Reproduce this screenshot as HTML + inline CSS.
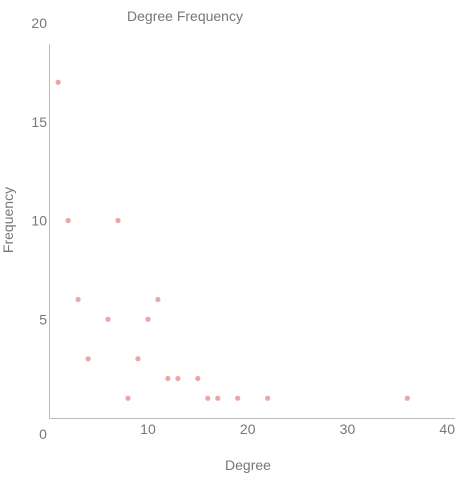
<!DOCTYPE html>
<html><head><meta charset="utf-8"><style>
body{margin:0;background:#fff;}
svg text{font-family:"Liberation Sans",sans-serif;fill:#777;}
</style></head><body>
<svg id="chart" width="471" height="481">
<text x="185" y="21" font-size="14" text-anchor="middle">Degree Frequency</text>
<line x1="49.5" y1="44" x2="49.5" y2="418.5" stroke="#bbb"/>
<line x1="49.5" y1="418.5" x2="455" y2="418.5" stroke="#bbb"/>
<g id="ticks"></g>
<g id="points"></g>
<text x="248" y="470" font-size="14" text-anchor="middle">Degree</text>
<text x="13" y="220" font-size="14" text-anchor="middle" transform="rotate(-90 13 220)">Frequency</text>
</svg>
<script>
const degrees=[1,2,3,4,6,7,8,9,10,11,12,13,15,16,17,19,22,36];
const freqs=[17,10,6,3,5,10,1,3,5,6,2,2,2,1,1,1,1,1];
const xTicks=[0,10,20,30,40];
const yTicks=[5,10,15,20];
const NS="http://www.w3.org/2000/svg";
const xs=v=>48.2+v*9.975;
const ys=v=>418-v*19.75;
const tg=document.getElementById('ticks');
xTicks.forEach(t=>{
  const e=document.createElementNS(NS,'text');
  
  
  e.setAttribute('x',t===0?43:xs(t));
  e.setAttribute('y',t===0?439:434);
  e.setAttribute('font-size','14');
  e.setAttribute('text-anchor','middle');
  e.textContent=t;tg.appendChild(e);
});
yTicks.forEach(t=>{
  const e=document.createElementNS(NS,'text');
  
  
  e.setAttribute('x',47);
  e.setAttribute('y',ys(t)+5);
  e.setAttribute('font-size','14');
  e.setAttribute('text-anchor','end');
  e.setAttribute('transform','translate(-0,0)');
  e.textContent=t;tg.appendChild(e);
});
const pg=document.getElementById('points');
degrees.forEach((d,i)=>{
  const c=document.createElementNS(NS,'circle');
  
  
  c.setAttribute('cx',xs(d));
  c.setAttribute('cy',ys(freqs[i]));
  c.setAttribute('r','2.6');
  c.setAttribute('fill','#e8a8a8');
  pg.appendChild(c);
});
</script>
</body></html>
